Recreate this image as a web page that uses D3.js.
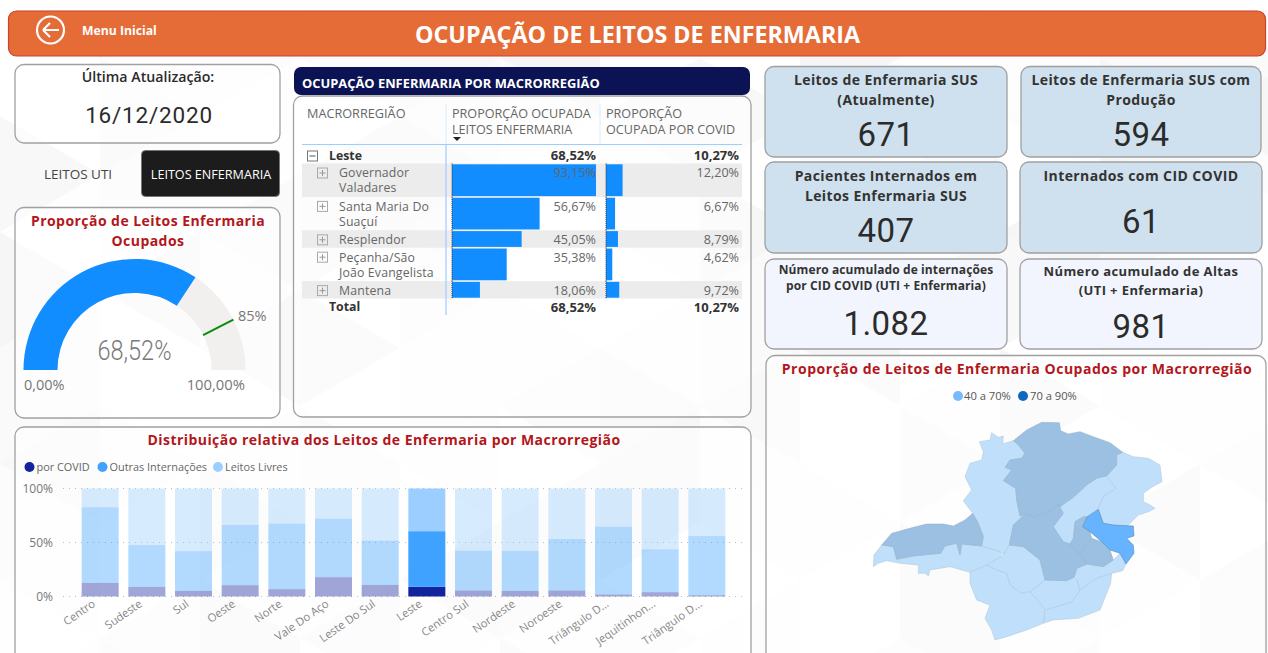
<!DOCTYPE html>
<html>
<head>
<meta charset="utf-8">
<title>Ocupação de Leitos de Enfermaria</title>
<script src="https://cdn.jsdelivr.net/npm/d3@7"></script>
<style>
  html, body { margin: 0; padding: 0; background: #fff; overflow: hidden; }
  text { font-family: "Open Sans", sans-serif; }
  .kpi { font-family: Roboto, sans-serif; }
</style>
</head>
<body>
<svg id="page" width="1268" height="653"></svg>
<script>
// stacked chart
const regions = ['Centro', 'Sudeste', 'Sul', 'Oeste', 'Norte', 'Vale Do Aço', 'Leste Do Sul', 'Leste', 'Centro Sul', 'Nordeste', 'Noroeste', 'Triângulo D...', 'Jequitinhon...', 'Triângulo D...'];
const regionKeys = d3.range(regions.length);
const porCovid = [12.6, 9, 5.2, 10.5, 6.8, 17.9, 10.8, 9, 5.6, 5.2, 5.6, 1.9, 4, 1.2];
const outrasInternacoes = [70.1, 38.8, 36.8, 55.9, 60.8, 54.3, 41.1, 51.5, 37, 37.1, 47.8, 62.9, 39.8, 55];
const leitosLivres = [17.3, 52.2, 58, 33.6, 32.4, 27.8, 48.1, 39.5, 57.4, 57.7, 46.6, 35.2, 56.2, 43.8];
const highlighted = 'Leste';
const yTicks = [0, 50, 100];

// table
const tableLabels = [['Governador', 'Valadares'], ['Santa Maria Do', 'Suaçuí'], ['Resplendor'], ['Peçanha/São', 'João Evangelista'], ['Mantena']];
const tableOcupada = [93.15, 56.67, 45.05, 35.38, 18.06];
const tableCovid = [12.20, 6.67, 8.79, 4.62, 9.72];
const totalOcupada = 68.52;
const totalCovid = 10.27;

// gauge
const gaugeValue = 68.52;
const gaugeTarget = 85;

// kpi cards
const kpiTitles = [
  ['Leitos de Enfermaria SUS', '(Atualmente)'],
  ['Leitos de Enfermaria SUS com', 'Produção'],
  ['Pacientes Internados em', 'Leitos Enfermaria SUS'],
  ['Internados com CID COVID'],
  ['Número acumulado de internações', 'por CID COVID (UTI + Enfermaria)'],
  ['Número acumulado de Altas', '(UTI + Enfermaria)']
];
const kpiValues = ['671', '594', '407', '61', '1.082', '981'];

// map outlines, in map units
const mapNorte = [[490,92],[530,60],[575,37],[628,38],[632,62],[655,72],[690,65],[730,80],[780,98],[818,127],[800,135],[800,165],[770,198],[740,205],[710,225],[670,262],[630,290],[625,282],[610,298],[580,310],[555,322],[525,312],[510,318],[500,270],[497,235],[460,212],[485,180],[465,172],[480,150],[515,145],[525,130],[505,105]];
const mapNoroeste = [[388,95],[420,90],[425,68],[445,82],[460,78],[458,102],[490,92],[505,105],[525,130],[515,145],[480,150],[465,172],[485,180],[460,212],[497,235],[500,270],[510,318],[522,314],[490,345],[478,405],[460,435],[450,425],[395,408],[400,380],[385,340],[368,310],[340,272],[365,240],[345,200],[360,160],[395,150],[400,125]];
const mapTrianguloNorte = [[95,405],[125,370],[190,352],[230,342],[280,342],[310,348],[345,330],[368,310],[385,340],[400,380],[395,408],[335,402],[330,435],[320,400],[285,408],[272,430],[190,438],[140,448],[130,410]];
const mapTrianguloSul = [[70,470],[72,435],[95,405],[130,410],[140,448],[190,438],[272,430],[285,408],[320,400],[330,435],[335,402],[395,408],[450,425],[455,440],[410,465],[360,487],[300,470],[240,480],[235,498],[225,490],[205,490],[205,465],[150,460],[110,452],[85,460]];
const mapCentro = [[525,312],[490,345],[478,405],[520,410],[570,450],[585,510],[650,512],[675,500],[680,475],[712,462],[690,430],[680,425],[660,402],[640,395],[610,350],[640,310],[625,282],[610,298],[580,310],[555,322]];
const mapJequitinhonha = [[740,205],[770,198],[798,235],[760,260],[745,295],[712,320],[700,320],[675,335],[670,385],[660,402],[640,395],[610,350],[640,310],[625,282],[630,290],[670,262],[710,225]];
const mapNordeste = [[818,127],[850,140],[895,145],[930,165],[936,215],[905,232],[880,250],[880,275],[900,285],[915,295],[895,305],[865,315],[830,350],[790,345],[760,340],[745,298],[745,295],[760,260],[798,235],[770,198],[800,165],[800,135]];
const mapLeste = [[745,298],[760,340],[790,345],[850,348],[852,378],[830,385],[850,405],[852,430],[828,462],[810,430],[780,420],[755,395],[720,365],[698,350],[712,320]];
const mapValeDoAco = [[675,335],[700,320],[712,320],[698,350],[720,365],[725,385],[710,400],[690,430],[680,425],[660,402],[670,385]];
const mapLesteDoSul = [[725,385],[755,395],[780,420],[790,450],[760,470],[712,462],[690,430],[710,400]];
const mapCaparao = [[680,475],[712,462],[760,470],[790,450],[810,430],[828,462],[818,482],[785,490],[740,505],[690,540],[680,510]];
const mapSudeste = [[690,540],[740,505],[785,490],[782,520],[750,600],[685,625],[610,630],[580,640],[585,600],[620,590],[665,575]];
const mapCentroSul = [[585,510],[650,512],[675,500],[680,510],[690,540],[665,575],[620,590],[585,600],[570,580],[540,545]];
const mapOeste = [[410,465],[455,440],[460,435],[478,405],[520,410],[570,450],[585,510],[540,545],[515,550],[480,525],[470,490],[440,480]];
const mapSul = [[360,487],[410,465],[440,480],[470,490],[480,525],[515,550],[540,545],[570,580],[585,600],[580,640],[530,660],[470,680],[435,690],[425,660],[405,625],[420,585],[380,570],[360,520]];
const mapLight = [mapNoroeste, mapTrianguloSul, mapJequitinhonha, mapNordeste, mapCaparao, mapSudeste, mapCentroSul, mapOeste, mapSul];
const mapDark = [mapNorte, mapTrianguloNorte, mapCentro, mapValeDoAco, mapLesteDoSul];
const mapHigh = [mapLeste];

const svg = d3.select('#page');
const RED = '#B3161B';
const GREY = '#777';

function drawBackground() {
  // faint triangle wallpaper behind the cards
  const shades = ['#fff', '#fafafa', '#fdfdfd', '#f6f6f6', '#fefefe', '#f8f8f8', '#fcfcfc'];
  const g = svg.append('g');
  const w = 100, h = 58;
  for (let i = 0; i < 14; i++) {
    for (let j = 0; j < 13; j++) {
      const x = i * w;
      const y = j * h * 2 - (i % 2) * h;
      const a = [[x, y], [x + w, y + h], [x, y + 2 * h]];
      const b = [[x, y], [x + w, y + h], [x + w, y - h]];
      g.append('path').attr('d', d3.line()(a) + 'Z').attr('fill', shades[(i * 3 + j * 5) % 7]);
      g.append('path').attr('d', d3.line()(b) + 'Z').attr('fill', shades[(i * 2 + j * 4 + 3) % 7]);
    }
  }
  svg.append('rect').attr('width', 1268).attr('height', 10).attr('fill', '#fff');
}

function card(x0, y0, x1, y1, fill) {
  svg.append('rect')
    .attr('x', x0).attr('y', y0)
    .attr('width', x1 - x0).attr('height', y1 - y0)
    .attr('rx', 9)
    .attr('fill', fill || 'rgba(255,255,255,0.6)')
    .attr('stroke', '#a0a0a0')
    .attr('stroke-width', 1.3);
}

function label(txt, x, y, size, opts) {
  const o = opts || {};
  return svg.append('text')
    .attr('x', x).attr('y', y)
    .attr('dy', '0.35em')
    .attr('text-anchor', o.anchor || 'middle')
    .attr('font-size', size)
    .attr('font-weight', o.weight || 400)
    .attr('letter-spacing', o.spacing || 0)
    .attr('fill', o.fill || '#333')
    .attr('class', o.cls || null)
    .text(txt);
}

function drawHeader() {
  svg.append('rect')
    .attr('x', 8.5).attr('y', 11).attr('width', 1257).attr('height', 45).attr('rx', 8)
    .attr('fill', '#E66C37').attr('stroke', '#C9432F').attr('stroke-width', 1.2);
  svg.append('circle').attr('cx', 50.5).attr('cy', 30).attr('r', 13.5)
    .attr('fill', 'none').attr('stroke', '#fff').attr('stroke-width', 2.2);
  svg.append('path').attr('d', 'M43 30H59M43 30L50 23M43 30L50 37')
    .attr('fill', 'none').attr('stroke', '#fff').attr('stroke-width', 2.2);
  label('Menu Inicial', 82, 30.5, 12.2, { anchor: 'start', weight: 700, fill: '#fff' });
  label('OCUPAÇÃO DE LEITOS DE ENFERMARIA', 637.5, 35, 23.3, { weight: 700, fill: '#fff' });
}

function drawLeft() {
  card(15, 64.5, 280, 143);
  label('Última Atualização:', 148, 77, 14.2, { weight: 600, fill: '#2b2b2b' });
  label('16/12/2020', 149, 115, 22.5, { cls: 'kpi', spacing: 0.8, fill: '#2b2b2b' });

  label('LEITOS UTI', 78, 174, 13.5, { fill: '#444' });
  svg.append('rect').attr('x', 141.5).attr('y', 150.5).attr('width', 138).attr('height', 46).attr('rx', 4)
    .attr('fill', '#1c1c1c').attr('stroke', '#777').attr('stroke-width', 1);
  label('LEITOS ENFERMARIA', 211, 175, 12.6, { fill: '#fff' });
}

function drawGauge() {
  card(15, 207.5, 280, 418);
  label('Proporção de Leitos Enfermaria', 148, 221, 14, { weight: 700, fill: RED, spacing: 0.45 });
  label('Ocupados', 148, 241, 14, { weight: 700, fill: RED, spacing: 0.45 });

  const cx = 134.5, cy = 370, inner = 77, outer = 111;
  const angle = d3.scaleLinear().domain([0, 100]).range([-Math.PI / 2, Math.PI / 2]);
  const arc = d3.arc().innerRadius(inner).outerRadius(outer);
  const g = svg.append('g').attr('transform', `translate(${cx},${cy})`);
  g.append('path').attr('fill', '#F1F0EE')
    .attr('d', arc({ startAngle: angle(0), endAngle: angle(100) }));
  g.append('path').attr('fill', '#118DFF')
    .attr('d', arc({ startAngle: angle(0), endAngle: angle(gaugeValue) }));
  const t = angle(gaugeTarget);
  g.append('line')
    .attr('x1', inner * Math.sin(t)).attr('y1', -inner * Math.cos(t))
    .attr('x2', outer * Math.sin(t)).attr('y2', -outer * Math.cos(t))
    .attr('stroke', '#0B8A0B').attr('stroke-width', 2);

  label('68,52%', cx, 350, 28, { cls: 'kpi', weight: 300, fill: '#7a7a7a' })
    .attr('textLength', 74).attr('lengthAdjust', 'spacingAndGlyphs');
  label('0,00%', 24, 385, 14.5, { anchor: 'start', fill: GREY });
  label('100,00%', 245, 385, 14.8, { anchor: 'end', fill: GREY });
  label('85%', 238, 316, 14.5, { anchor: 'start', fill: GREY });
}

function expander(x, y, open) {
  svg.append('rect').attr('x', x).attr('y', y - 5).attr('width', 10).attr('height', 10)
    .attr('fill', 'none').attr('stroke', open ? '#777' : '#aaa').attr('stroke-width', 1);
  svg.append('path').attr('d', `M${x + 2} ${y}H${x + 8}` + (open ? '' : `M${x + 5} ${y - 3}V${y + 3}`))
    .attr('stroke', open ? '#555' : '#999').attr('stroke-width', 1);
}

function drawTable() {
  card(293.5, 96, 751, 417);
  svg.append('rect').attr('x', 294).attr('y', 67).attr('width', 456).attr('height', 28).attr('rx', 7).attr('fill', '#0B1354');
  label('OCUPAÇÃO ENFERMARIA POR MACRORREGIÃO', 302, 83, 12.9, { anchor: 'start', weight: 700, fill: '#fff' });

  const left = 302, right = 742;
  const headStyle = { anchor: 'start', fill: '#666' };
  label('MACRORREGIÃO', 307, 113.5, 12.7, headStyle);
  label('PROPORÇÃO OCUPADA', 452, 113.5, 12.6, headStyle);
  label('LEITOS ENFERMARIA', 452, 129.5, 12.6, headStyle);
  label('PROPORÇÃO', 606, 113.5, 12.6, headStyle);
  label('OCUPADA POR COVID', 606, 129.5, 12.6, headStyle);
  svg.append('path').attr('d', 'M453 137H461L457 141Z').attr('fill', '#222');

  const fmt = v => d3.format('.2f')(v).replace('.', ',') + '%';
  const x1 = d3.scaleLinear().domain([0, 93.15]).range([452, 596]);
  const x2 = d3.scaleLinear().domain([0, 100]).range([606, 742]);

  // row tops and heights follow the number of wrapped lines
  const rowH = l => (l.length > 1 ? 33.4 : 17.4);
  let y = 163.5;
  tableLabels.forEach((lines, i) => {
    const h = rowH(lines);
    if (i % 2 === 0) {
      svg.append('rect').attr('x', left).attr('y', y).attr('width', right - left).attr('height', h).attr('fill', '#ECECEC');
    }
    svg.append('rect').attr('x', x1(0)).attr('y', y + 0.8).attr('width', x1(tableOcupada[i]) - x1(0)).attr('height', h - 1.6).attr('fill', '#118DFF');
    svg.append('rect').attr('x', x2(0)).attr('y', y + 0.8).attr('width', x2(tableCovid[i]) - x2(0)).attr('height', h - 1.6).attr('fill', '#118DFF');
    svg.append('line').attr('x1', x1(0)).attr('x2', x1(0)).attr('y1', y).attr('y2', y + h).attr('stroke', '#333').attr('stroke-dasharray', '1,1');
    svg.append('line').attr('x1', x2(0)).attr('x2', x2(0)).attr('y1', y).attr('y2', y + h).attr('stroke', '#333').attr('stroke-dasharray', '1,1');
    expander(317.5, y + 9.5, false);
    lines.forEach((l, k) => label(l, 339, y + 9.5 + k * 15, 12.3, { anchor: 'start', fill: '#666', spacing: 0.15 }));
    label(fmt(tableOcupada[i]), 596, y + 9.5, 12.6, { anchor: 'end', fill: '#666' });
    label(fmt(tableCovid[i]), 739, y + 9.5, 12.6, { anchor: 'end', fill: '#666' });
    y += h;
  });

  svg.append('line').attr('x1', left).attr('x2', right).attr('y1', 144.5).attr('y2', 144.5).attr('stroke', '#9CCFFF').attr('stroke-width', 1.2);
  svg.append('line').attr('x1', 446).attr('x2', 446).attr('y1', 104).attr('y2', 144).attr('stroke', '#DCEBFA');
  svg.append('line').attr('x1', 446).attr('x2', 446).attr('y1', 144).attr('y2', 315).attr('stroke', '#9CCFFF').attr('stroke-width', 1.2);
  svg.append('line').attr('x1', 600).attr('x2', 600).attr('y1', 104).attr('y2', 144).attr('stroke', '#DCEBFA');

  const bold = { anchor: 'end', weight: 700, fill: '#333' };
  expander(307.5, 156, true);
  label('Leste', 329, 155.5, 12.3, { anchor: 'start', weight: 700, fill: '#333' });
  label(fmt(totalOcupada), 596, 155.5, 13, bold);
  label(fmt(totalCovid), 739, 155.5, 13, bold);
  label('Total', 329, 307, 12.3, { anchor: 'start', weight: 700, fill: '#333' });
  label(fmt(totalOcupada), 596, 307, 13, bold);
  label(fmt(totalCovid), 739, 307, 13, bold);
}

function drawKpis() {
  const boxes = [[765, 66.5, 1007, 157], [1021, 66.5, 1261, 157], [765, 162, 1007, 253], [1020, 162, 1262, 253], [765, 259, 1007, 349], [1020, 259, 1262, 349]];
  const titleY = [[80, 100], [80, 100], [176, 196], [176], [270, 286], [271.5, 290]];
  const valueY = [134, 134, 230, 221, 323, 326];
  const titleSize = [14, 14, 14, 14, 12, 13];
  boxes.forEach((b, i) => {
    card(b[0], b[1], b[2], b[3], i < 4 ? '#CFE1EE' : '#F2F5FD');
    const cx = (b[0] + b[2]) / 2;
    kpiTitles[i].forEach((t, k) => label(t, cx, titleY[i][k], titleSize[i], { weight: 700, fill: '#333', spacing: i === 4 ? 0.1 : 0.4 }));
    label(kpiValues[i], cx, valueY[i], 33, { cls: 'kpi', fill: '#2b2b2b', spacing: 0.4 });
  });
}

function drawStacked() {
  card(15, 427, 751, 680);
  label('Distribuição relativa dos Leitos de Enfermaria por Macrorregião', 384, 440, 14, { weight: 700, fill: RED, spacing: 0.45 });

  const colors = ['#12239E', '#3FA2FF', '#9CCEFF'];
  const names = ['por COVID', 'Outras Internações', 'Leitos Livres'];
  const legendX = [29.5, 102.5, 218];
  names.forEach((n, i) => {
    svg.append('circle').attr('cx', legendX[i]).attr('cy', 467).attr('r', 5).attr('fill', colors[i]);
    label(n, legendX[i] + 7, 467, 10.9, { anchor: 'start', fill: '#666' });
  });

  const x = d3.scaleBand().domain(regionKeys).range([77, 730]).paddingInner(0.207).paddingOuter(0.1);
  const y = d3.scaleLinear().domain([0, 100]).range([596.5, 488.5]);

  const grid = svg.append('g');
  yTicks.forEach(t => {
    grid.append('line').attr('x1', 63).attr('x2', 743).attr('y1', y(t)).attr('y2', y(t))
      .attr('stroke', '#bbb').attr('stroke-dasharray', '1,5');
  });

  const rows = regionKeys.map(i => ({ key: i, covid: porCovid[i], outras: outrasInternacoes[i], livres: leitosLivres[i] }));
  const stacked = d3.stack().keys(['covid', 'outras', 'livres'])(rows);
  svg.append('g').selectAll('g').data(stacked).join('g')
    .attr('fill', (d, i) => colors[i])
    .selectAll('rect').data(d => d).join('rect')
    .attr('x', d => x(d.data.key))
    .attr('width', x.bandwidth())
    .attr('y', d => y(d[1]))
    .attr('height', d => y(d[0]) - y(d[1]))
    .attr('fill-opacity', d => (regions[d.data.key] === highlighted ? 1 : 0.4));

  const yAxis = svg.append('g').attr('transform', 'translate(53,0)')
    .call(d3.axisLeft(y).tickValues(yTicks).tickSize(0).tickPadding(0).tickFormat(d => d + '%'));
  yAxis.select('.domain').remove();
  yAxis.selectAll('text').attr('font-size', 12).attr('fill', GREY).attr('font-family', '"Open Sans", sans-serif');

  const xAxis = svg.append('g').attr('transform', 'translate(0,596.5)')
    .call(d3.axisBottom(x).tickSize(0).tickFormat(i => regions[i]));
  xAxis.select('.domain').remove();
  xAxis.selectAll('text')
    .attr('font-size', 11.3).attr('fill', '#888').attr('font-family', '"Open Sans", sans-serif')
    .attr('text-anchor', 'end')
    .attr('dy', 0).attr('y', 0)
    .attr('transform', 'translate(-4,9) rotate(-35)');
}

function drawMap() {
  card(766, 355.5, 1266, 680);
  label('Proporção de Leitos de Enfermaria Ocupados por Macrorregião', 1017, 369, 14, { weight: 700, fill: RED, spacing: 0.52 });
  svg.append('circle').attr('cx', 958).attr('cy', 396).attr('r', 5).attr('fill', '#77B9FF');
  label('40 a 70%', 964, 396, 11.2, { anchor: 'start', fill: '#555' });
  svg.append('circle').attr('cx', 1023).attr('cy', 396).attr('r', 5).attr('fill', '#1067BE');
  label('70 a 90%', 1030, 396, 11.2, { anchor: 'start', fill: '#555' });

  const mx = d3.scaleLinear().domain([0, 900]).range([850, 1150]);
  const my = d3.scaleLinear().domain([0, 729]).range([410, 653]);
  const path = d3.line().x(d => mx(d[0])).y(d => my(d[1])).curve(d3.curveLinearClosed);
  const draw = (list, fill, stroke) => {
    svg.append('g').selectAll('path').data(list).join('path')
      .attr('d', path).attr('fill', fill).attr('stroke', stroke).attr('stroke-width', 0.5);
  };
  draw(mapLight, '#C0DFFB', '#A9C4DA');
  draw(mapDark, '#9CC0E2', '#8FAECB');
  draw(mapHigh, '#66B3FF', '#4F7FA8');
}

drawBackground();
drawHeader();
drawLeft();
drawGauge();
drawTable();
drawKpis();
drawStacked();
drawMap();
</script>
</body>
</html>
